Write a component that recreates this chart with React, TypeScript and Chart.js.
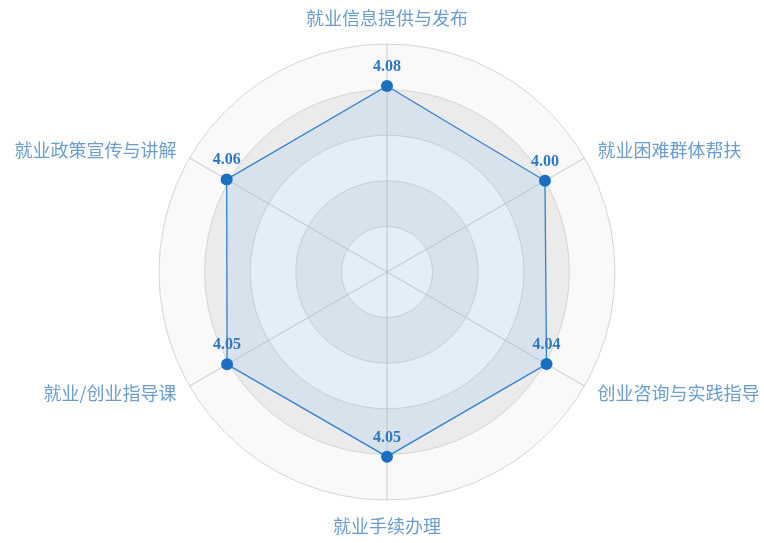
import React, { useEffect, useRef } from "react";
import { Chart, registerables } from "chart.js";

Chart.register(...registerables);

const categories = [
  "就业信息提供与发布",
  "就业困难群体帮扶",
  "创业咨询与实践指导",
  "就业手续办理",
  "就业/创业指导课",
  "就业政策宣传与讲解",
];
const scores = [4.08, 4.0, 4.04, 4.05, 4.05, 4.06];
const scaleMin = 0;
const scaleMax = 5;
const bandColors = ["#f9f9f9", "#ebebeb", "#f9f9f9", "#ebebeb", "#f9f9f9"];

const bandsPlugin = {
  id: "bands",
  beforeDatasetsDraw(chart: any) {
    const s = chart.scales.r;
    const ctx = chart.ctx;
    ctx.save();
    for (let v = scaleMax; v > scaleMin; v--) {
      const r = s.getDistanceFromCenterForValue(v);
      ctx.beginPath();
      ctx.arc(s.xCenter, s.yCenter, r, 0, Math.PI * 2);
      ctx.fillStyle = bandColors[v - 1];
      ctx.fill();
    }
    ctx.strokeStyle = "#d4d4d4";
    ctx.lineWidth = 1;
    for (let v = scaleMin + 1; v <= scaleMax; v++) {
      const r = s.getDistanceFromCenterForValue(v);
      ctx.beginPath();
      ctx.arc(s.xCenter, s.yCenter, r, 0, Math.PI * 2);
      ctx.stroke();
    }
    const outer = s.getDistanceFromCenterForValue(scaleMax);
    for (let i = 0; i < categories.length; i++) {
      const p = s.getPointPosition(i, outer);
      ctx.beginPath();
      ctx.moveTo(s.xCenter, s.yCenter);
      ctx.lineTo(p.x, p.y);
      ctx.strokeStyle = "#c8c8c8";
      ctx.stroke();
    }
    // category labels around the outer ring
    ctx.font = "18px 'Noto Sans CJK SC', sans-serif";
    ctx.fillStyle = "#6b9dcc";
    ctx.textBaseline = "middle";
    for (let i = 0; i < categories.length; i++) {
      const p0 = s.getPointPosition(i, outer);
      const vertical = Math.abs(p0.x - s.xCenter) < 1;
      const p = s.getPointPosition(i, outer + (vertical ? 26 : 15));
      ctx.textAlign = vertical ? "center" : p.x > s.xCenter ? "left" : "right";
      ctx.fillText(categories[i], p.x, p.y);
    }
    ctx.restore();
  },
  afterDatasetsDraw(chart: any) {
    const meta = chart.getDatasetMeta(0);
    const ctx = chart.ctx;
    ctx.save();
    ctx.font = "bold 16px 'Liberation Serif', 'Times New Roman', serif";
    ctx.fillStyle = "#2b77c0";
    ctx.textAlign = "center";
    ctx.textBaseline = "alphabetic";
    meta.data.forEach((pt: any, i: number) => {
      ctx.fillText(scores[i].toFixed(2), pt.x, pt.y - 15);
    });
    ctx.restore();
  },
};

export default function App() {
  const ref = useRef<HTMLCanvasElement | null>(null);
  useEffect(() => {
    if (!ref.current) return;
    const chart = new Chart(ref.current, {
      type: "radar",
      data: {
        labels: categories,
        datasets: [
          {
            data: scores,
            borderColor: "#2f80d0",
            borderWidth: 1.3,
            backgroundColor: "rgba(108,175,241,0.15)",
            fill: true,
            pointRadius: 6,
            pointBackgroundColor: "#1a6fc0",
            pointBorderColor: "#1a6fc0",
            pointBorderWidth: 0,
          },
        ],
      },
      options: {
        animation: false,
        responsive: false,
        layout: { padding: { top: 44, bottom: 42, left: 10, right: 0 } },
        plugins: { legend: { display: false }, tooltip: { enabled: false } },
        scales: {
          r: {
            min: scaleMin,
            max: scaleMax,
            ticks: { display: false, stepSize: 1 },
            grid: { display: false },
            angleLines: { display: false },
            pointLabels: { display: false },
          },
        },
      },
      plugins: [bandsPlugin],
    });
    return () => chart.destroy();
  }, []);
  return (
    <div style={{ position: "fixed", left: 0, top: 0, width: 764, height: 543, background: "#fff" }}>
      <canvas ref={ref} width={764} height={543} style={{ display: "block" }} />
    </div>
  );
}
